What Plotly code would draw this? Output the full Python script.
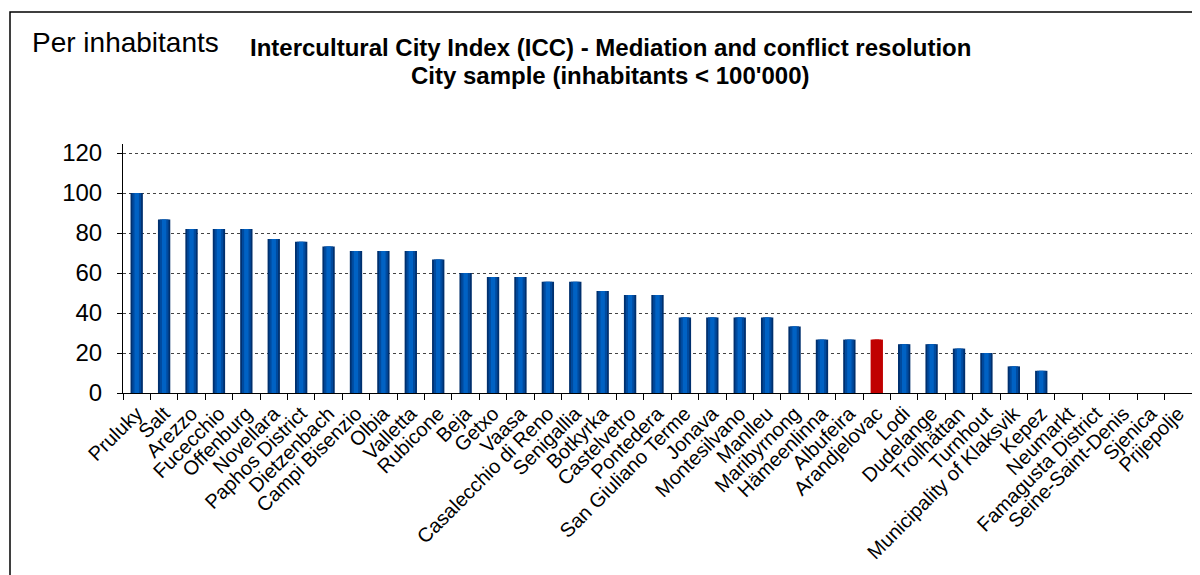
import plotly.graph_objects as go

cities = ['Pruluky', 'Salt', 'Arezzo', 'Fucecchio', 'Offenburg', 'Novellara', 'Paphos District',
          'Dietzenbach', 'Campi Bisenzio', 'Olbia', 'Valletta', 'Rubicone', 'Beja', 'Getxo', 'Vaasa',
          'Casalecchio di Reno', 'Senigallia', 'Botkyrka', 'Castelvetro', 'Pontedera',
          'San Giuliano Terme', 'Jonava', 'Montesilvano', 'Manlleu', 'Maribyrnong', 'Hämeenlinna',
          'Albufeira', 'Arandjelovac', 'Lodi', 'Dudelange', 'Trollhättan', 'Turnhout',
          'Municipality of Klaksvik', 'Kepez', 'Neumarkt', 'Famagusta District', 'Seine-Saint-Denis',
          'Sjenica', 'Prijepolje']
scores = [100, 86.7, 82, 82, 82, 77, 75.6, 73.3, 71, 71, 71, 66.7, 60, 58, 58, 55.6, 55.6, 51,
          49, 49, 37.8, 37.8, 37.8, 37.8, 33.3, 26.7, 26.7, 26.7, 24.4, 24.4, 22.2, 20, 13.3, 11.1,
          0, 0, 0, 0, 0]
highlight = 'Arandjelovac'
y_ticks = [0, 20, 40, 60, 80, 100, 120]

# fake the horizontal gradient of the bars with three overlaid layers
layers = [(0.45, '#00306e'), (0.32, '#004a9e'), (0.16, '#0062c4')]

fig = go.Figure()
for w, col in layers:
    colors = ['#c00000' if c == highlight else col for c in cities]
    fig.add_trace(go.Bar(x=cities, y=scores, width=w, marker=dict(color=colors, line=dict(width=0)),
                         showlegend=False, hoverinfo='x+y'))

# page has an 8px body margin, so positions are reference pixels minus 8
W, H = 1200, 575
L, R, T, B = 115, 16, 136, 190
pw, ph = W - L - R, H - T - B

def px(x):
    return (x - 8 - L) / pw

def py(y):
    return (H - B - (y - 8)) / ph

fig.update_layout(
    width=W, height=H,
    margin=dict(l=L, r=R, t=T, b=B, autoexpand=False),
    barmode='overlay',
    plot_bgcolor='white', paper_bgcolor='white',
    font=dict(family='Arial, Liberation Sans', color='black'),
    xaxis=dict(tickangle=-45, tickfont=dict(size=20), showline=True, linecolor='black',
               ticks='outside', tickson='boundaries', ticklen=6, tickcolor='black',
               showgrid=False, range=[-0.5, len(cities) - 0.5], automargin=False),
    yaxis=dict(range=[0, 124.5], tickvals=y_ticks, tickfont=dict(size=24), showline=True,
               linecolor='black', ticks='outside', ticklen=5, tickcolor='black',
               ticklabelstandoff=10,
               showgrid=True, gridcolor='#444444', griddash='dot', gridwidth=1, zeroline=False,
               automargin=False),
    shapes=[dict(type='rect', xref='paper', yref='paper',
                 x0=px(10), x1=px(1215), y0=-1.0, y1=py(12),
                 line=dict(color='black', width=1.5))],
    annotations=[
        dict(text='Per inhabitants', xref='paper', yref='paper', x=px(30),
             y=py(42), xanchor='left', yanchor='middle', showarrow=False,
             font=dict(size=28)),
        dict(text='<b>Intercultural City Index (ICC) - Mediation and conflict resolution</b>',
             xref='paper', yref='paper', x=px(610), y=py(47),
             xanchor='center', yanchor='middle', showarrow=False, font=dict(size=24)),
        dict(text="<b>City sample (inhabitants < 100'000)</b>",
             xref='paper', yref='paper', x=px(610), y=py(76),
             xanchor='center', yanchor='middle', showarrow=False, font=dict(size=24)),
    ],
)

fig.write_html('out.html')
